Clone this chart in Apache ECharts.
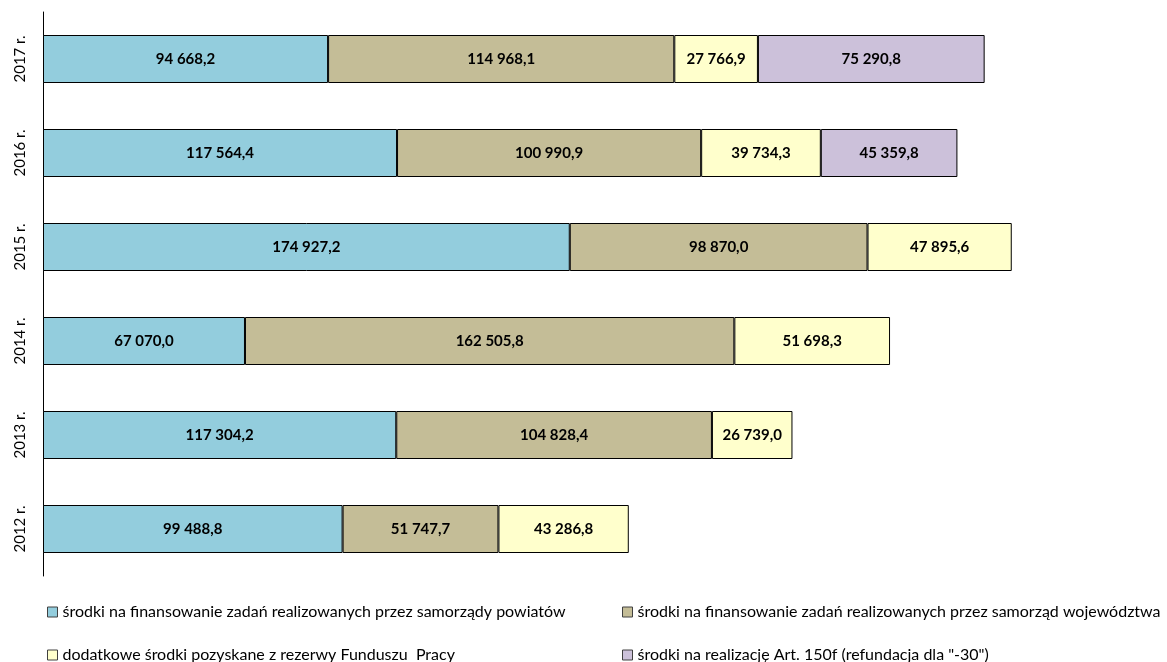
<!DOCTYPE html>
<html><head><meta charset="utf-8">
<script src="https://cdn.jsdelivr.net/npm/echarts@6/dist/echarts.min.js"></script>
<style>html,body{margin:0;padding:0;background:#fff}#c{width:1167px;height:662px}</style>
</head><body><div id="c"></div>
<script>
const categories = ['2012 r.', '2013 r.', '2014 r.', '2015 r.', '2016 r.', '2017 r.'];
const seriesNames = [
  'środki na finansowanie zadań realizowanych przez samorządy powiatów',
  'środki na finansowanie zadań realizowanych przez samorząd województwa',
  'dodatkowe środki pozyskane z rezerwy Funduszu  Pracy',
  'środki na realizację Art. 150f (refundacja dla "-30")'
];
const powiaty = [99488.8, 117304.2, 67070.0, 174927.2, 117564.4, 94668.2];
const wojewodztwa = [51747.7, 104828.4, 162505.8, 98870.0, 100990.9, 114968.1];
const rezerwa = [43286.8, 26739.0, 51698.3, 47895.6, 39734.3, 27766.9];
const art150f = [null, null, null, null, 45359.8, 75290.8];
const colors = ['#93CDDD', '#C4BD97', '#FFFFCC', '#CCC1DA'];
const values = [powiaty, wojewodztwa, rezerwa, art150f];

function fmt(v) {
  const parts = v.toFixed(1).split('.');
  const intp = parts[0].replace(/\B(?=(\d{3})+(?!\d))/g, ' ');
  return intp + ',' + parts[1];
}
const font = 'Lato, "Liberation Sans", sans-serif';
const legendPos = [[47, 604], [622, 604], [47, 647], [622, 647]];
const chart = echarts.init(document.getElementById('c'));
chart.setOption({
  animation: false,
  textStyle: { fontFamily: font },
  grid: { left: 43, right: 70, top: 12, bottom: 86 },
  xAxis: { type: 'value', min: 0, max: 350000, show: false },
  yAxis: {
    type: 'category', data: categories,
    axisLine: { show: true, lineStyle: { color: '#000', width: 1 } },
    axisTick: { show: false },
    axisLabel: { rotate: 90, color: '#000', fontSize: 15, fontFamily: font, margin: 15 }
  },
  legend: seriesNames.map((n, i) => ({
    data: [n], left: legendPos[i][0], top: legendPos[i][1], padding: 0,
    icon: 'rect', itemWidth: 10, itemHeight: 10, itemGap: 0,
    itemStyle: { borderColor: '#404040', borderWidth: 1 },
    textStyle: { fontSize: 16, color: '#000', fontFamily: font }
  })),
  series: values.map((arr, i) => ({
    name: seriesNames[i], type: 'bar', stack: 'total', data: arr, barWidth: 48,
    itemStyle: { color: colors[i], borderColor: '#000', borderWidth: 1 },
    label: { show: true, position: 'inside', color: '#000', fontWeight: 'bold', fontSize: 15, fontFamily: font,
      formatter: p => fmt(p.value) }
  }))
});
</script></body></html>
